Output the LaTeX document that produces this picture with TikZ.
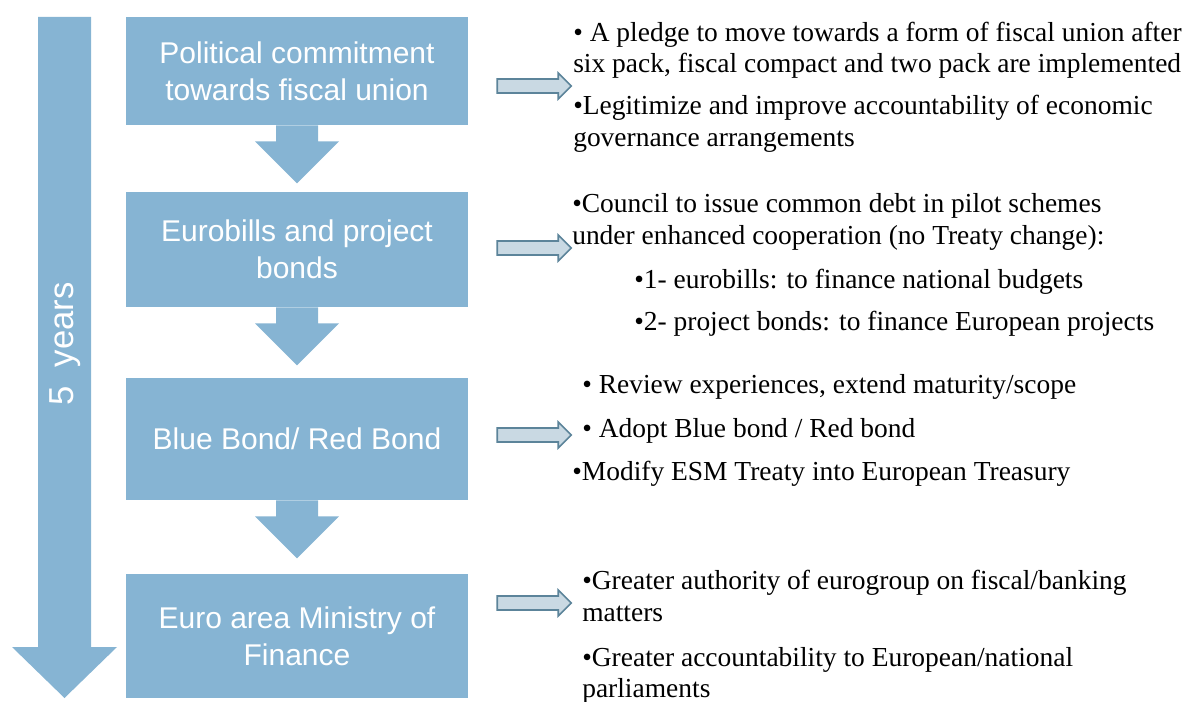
\documentclass[tikz,border=0pt]{standalone}
\usepackage{fontspec}
\setmainfont{Liberation Serif}
\setsansfont{Liberation Sans}
\usetikzlibrary{calc}
\definecolor{stepblue}{RGB}{134,180,211}
\definecolor{pointerfill}{RGB}{201,217,227}
\definecolor{pointerline}{RGB}{92,132,154}
\tikzstyle{phase} = [rectangle, fill=stepblue, text=white, inner sep=0pt,
    font=\sffamily\fontsize{22.5}{27.75}\selectfont, align=center, minimum width=256.5pt]
\tikzstyle{pointer} = [draw=pointerline, fill=pointerfill, line width=1.2pt, line join=miter]
\tikzstyle{note} = [anchor=base west, inner sep=0pt, font=\fontsize{20.6}{24}\selectfont]

\begin{document}
\begin{tikzpicture}[x=0.75pt, y=-0.75pt]
    \useasboundingbox (0,0) rectangle (1184,702);
    % Time arrow
    \fill[stepblue] (38,17) -- (91,17) -- (91,647) -- (117,647) -- (64.5,698)
        -- (12,647) -- (38,647) -- cycle;
    \node [rotate=90, text=white, font=\sffamily\fontsize{26}{30}\selectfont] (span) at (65,344) {5\ \ years};
    % Place nodes
    \node [phase, minimum height=81pt] (commit) at (297,71) {Political commitment\\towards fiscal union};
    \node [phase, minimum height=86.25pt] (bills) at (297,249.5) {Eurobills and project\\bonds};
    \node [phase, minimum height=91.5pt] (bluered) at (297,439) {Blue Bond/ Red Bond};
    \node [phase, minimum height=93pt] (ministry) at (297,636) {Euro area Ministry of\\Finance};
    % Draw block arrows
    \fill[stepblue] ($(commit.south)+(-21,0)$) -- ++(0,16) -- ++(-21,0) -- ($(commit.south)+(0,58)$)
        -- ($(commit.south)+(42,16)$) -- ++(-21,0) -- ($(commit.south)+(21,0)$) -- cycle;
    \fill[stepblue] ($(bills.south)+(-21,0)$) -- ++(0,16) -- ++(-21,0) -- ($(bills.south)+(0,58)$)
        -- ($(bills.south)+(42,16)$) -- ++(-21,0) -- ($(bills.south)+(21,0)$) -- cycle;
    \fill[stepblue] ($(bluered.south)+(-21,0)$) -- ++(0,16) -- ++(-21,0) -- ($(bluered.south)+(0,58)$)
        -- ($(bluered.south)+(42,16)$) -- ++(-21,0) -- ($(bluered.south)+(21,0)$) -- cycle;
    % Pointers to the notes
    \coordinate (p1) at ($(commit.east |- 0,86)+(29,0)$);
    \coordinate (p2) at ($(bills.east |- 0,248)+(29,0)$);
    \coordinate (p3) at ($(bluered.east |- 0,435)+(29,0)$);
    \coordinate (p4) at ($(ministry.east |- 0,603)+(29,0)$);
    \draw[pointer] (p1) ++(0,-7) -- ++(61,0) -- ++(0,-6) -- ++(13,13) -- ++(-13,13) -- ++(0,-6) -- ++(-61,0) -- cycle;
    \draw[pointer] (p2) ++(0,-7) -- ++(61,0) -- ++(0,-6) -- ++(13,13) -- ++(-13,13) -- ++(0,-6) -- ++(-61,0) -- cycle;
    \draw[pointer] (p3) ++(0,-7) -- ++(61,0) -- ++(0,-6) -- ++(13,13) -- ++(-13,13) -- ++(0,-6) -- ++(-61,0) -- cycle;
    \draw[pointer] (p4) ++(0,-7) -- ++(61,0) -- ++(0,-6) -- ++(13,13) -- ++(-13,13) -- ++(0,-6) -- ++(-61,0) -- cycle;
    % Notes
    \node [note] (n1a) at (573,42) {• A pledge to move towards a form of fiscal union after};
    \node [note] (n1b) at (573,73) {six pack, fiscal compact and two pack are implemented};
    \node [note] (n1c) at (573,115) {•Legitimize and improve accountability of economic};
    \node [note] (n1d) at (573,147) {governance arrangements};
    \node [note] (n2a) at (572,213) {•Council to issue common debt in pilot schemes};
    \node [note] (n2b) at (572,245) {under enhanced cooperation (no Treaty change):};
    \node [note] (n2c) at (634,288) {•1- eurobills: to finance national budgets};
    \node [note] (n2d) at (634,330) {•2- project bonds: to finance European projects};
    \node [note] (n3a) at (582,393) {• Review experiences, extend maturity/scope};
    \node [note] (n3b) at (582,437) {• Adopt Blue bond / Red bond};
    \node [note] (n3c) at (572,480) {•Modify ESM Treaty into European Treasury};
    \node [note] (n4a) at (582,589) {•Greater authority of eurogroup on fiscal/banking};
    \node [note] (n4b) at (582,621) {matters};
    \node [note] (n4c) at (582,666) {•Greater accountability to European/national};
    \node [note] (n4d) at (582,697) {parliaments};
\end{tikzpicture}
\end{document}
